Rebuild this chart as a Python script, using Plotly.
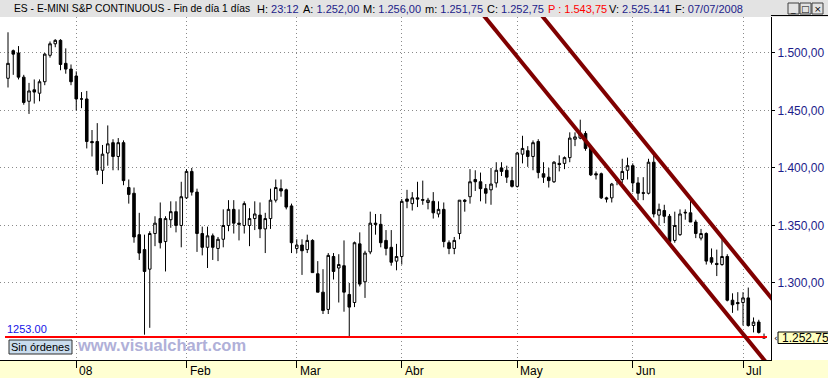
import plotly.graph_objects as go

# ---------------- data ----------------
opens = [
    1478, 1502, 1500, 1479, 1458, 1468, 1465, 1475, 1498, 1508,
    1511, 1491, 1486, 1480, 1460, 1460, 1423, 1423, 1398, 1413,
    1422, 1410, 1422, 1383, 1378, 1342, 1329, 1312, 1343, 1356,
    1336, 1355, 1362, 1350, 1374, 1397, 1379, 1343, 1331, 1341,
    1330, 1338, 1350, 1364, 1352, 1350, 1350, 1356, 1359, 1347,
    1356, 1372, 1382, 1381, 1367, 1330, 1333, 1329, 1337, 1308,
    1292, 1277, 1323, 1313, 1315, 1290, 1283, 1334, 1301, 1327,
    1352, 1351, 1337, 1331, 1319, 1323, 1373, 1369, 1374, 1372.5,
    1370, 1371, 1360, 1364, 1335, 1330, 1343, 1372, 1375, 1390,
    1388, 1382, 1381, 1387, 1400, 1398, 1389, 1384, 1412, 1415,
    1410, 1423, 1395, 1392, 1388, 1404, 1404, 1409, 1425, 1426,
    1430, 1417, 1395, 1395, 1374, 1374, 1390, 1390, 1398, 1402,
    1387, 1378.5, 1378, 1405, 1359, 1363, 1358, 1337, 1342, 1361.5,
    1361, 1353, 1339, 1343, 1322, 1317, 1316, 1323, 1285, 1283,
    1283, 1287, 1263, 1266, 1252,
]
highs = [
    1518, 1503, 1506, 1481, 1474, 1477, 1477, 1500, 1510, 1512,
    1512, 1504, 1490, 1484, 1466, 1467, 1433, 1439, 1420, 1437,
    1425, 1426, 1424, 1390, 1383, 1361, 1342, 1345, 1358, 1370,
    1358, 1371, 1371, 1388, 1399, 1400, 1382, 1349, 1349, 1343,
    1340, 1364, 1372, 1372, 1364, 1371, 1365, 1371, 1370, 1361,
    1382, 1390, 1390, 1382, 1369, 1338, 1338, 1342, 1338, 1319,
    1312, 1326, 1326, 1325, 1337, 1300, 1336, 1344, 1328, 1362,
    1360, 1360, 1346, 1346, 1334, 1373, 1381, 1379, 1388, 1389,
    1374, 1379, 1371, 1370, 1337, 1340, 1372, 1373, 1399, 1398,
    1396, 1386, 1400, 1405, 1405, 1402, 1401, 1414, 1428, 1419,
    1424, 1425, 1405, 1400, 1406, 1411, 1410, 1431, 1431, 1442,
    1432, 1420, 1397, 1396, 1375, 1387, 1392, 1408, 1409, 1404,
    1392, 1392, 1408, 1412, 1369, 1368, 1360, 1362, 1364, 1364,
    1373, 1355, 1347, 1344, 1330, 1329, 1338, 1325, 1291, 1292,
    1292, 1296, 1270, 1268, 1256,
]
lows = [
    1470, 1481, 1477, 1455, 1447, 1456, 1458, 1472, 1496, 1505,
    1485, 1482, 1472, 1450, 1452, 1417, 1410, 1394, 1386, 1402,
    1398, 1398, 1385, 1369, 1335, 1320, 1255, 1261, 1332, 1330,
    1310, 1348, 1344, 1331, 1373, 1376, 1327, 1324, 1313, 1320,
    1319, 1331, 1345, 1343, 1337, 1343, 1332, 1346, 1339, 1326,
    1347, 1370, 1375, 1364, 1326, 1326, 1307, 1326, 1309, 1292,
    1273, 1273, 1303, 1283, 1275, 1253, 1279, 1297, 1287, 1325,
    1342, 1331, 1324, 1315, 1311, 1316, 1365, 1363, 1366, 1368,
    1364, 1356, 1357, 1331, 1325, 1325, 1338, 1362, 1369, 1380,
    1371, 1369, 1368, 1383, 1393, 1387, 1383, 1383, 1404, 1401,
    1398, 1391, 1387, 1383, 1387, 1397, 1399, 1405, 1419, 1425,
    1415, 1393, 1390, 1373, 1370, 1370, 1385, 1387, 1390, 1379,
    1372, 1372, 1377, 1357, 1350, 1352, 1334, 1335, 1341, 1355,
    1353, 1339, 1337, 1316, 1316, 1306, 1315, 1284, 1274, 1276,
    1263, 1262, 1257, 1256, 1251.75,
]
closes = [
    1491, 1499, 1479, 1457, 1467, 1466, 1475, 1499, 1508, 1511,
    1490, 1486, 1475, 1460, 1460, 1423, 1422, 1398, 1412, 1421,
    1410, 1422, 1389, 1377, 1340, 1326, 1310, 1343, 1352, 1335,
    1356, 1362, 1350, 1375, 1397, 1379, 1343, 1331, 1341, 1331,
    1338, 1350, 1364, 1352, 1351, 1369, 1356, 1360, 1347, 1356,
    1372, 1383, 1380, 1366, 1335, 1333, 1328, 1337, 1309, 1292,
    1276, 1324, 1310, 1316, 1292, 1279, 1335, 1299, 1326, 1352,
    1351, 1335, 1330, 1318, 1323, 1371, 1371, 1374, 1373, 1372,
    1372, 1361, 1364, 1336, 1330, 1337, 1372, 1371, 1388, 1388,
    1382, 1378, 1386, 1398, 1397, 1392, 1384, 1413, 1417, 1410,
    1422, 1396, 1392, 1389, 1405, 1403, 1409, 1426, 1427, 1430,
    1417, 1394, 1394, 1374, 1373, 1386, 1389, 1397, 1402, 1387,
    1378, 1378, 1405, 1360, 1364, 1358, 1336, 1350, 1360, 1361,
    1353, 1343, 1343, 1319, 1318, 1316, 1323, 1285, 1281, 1282,
    1287, 1263, 1266, 1257, 1252.75,
]
bar_index = list(range(len(opens)))

month_ticks = [13, 34, 55, 75, 97, 119, 140]
month_labels = ["08", "Feb", "Mar", "Abr", "May", "Jun", "Jul"]

price_ticks = [1300, 1350, 1400, 1450, 1500]
price_labels = ["1.300,00", "1.350,00", "1.400,00", "1.450,00", "1.500,00"]

# drawn channel lines (bar index, price)
upper_line_x = [100, 146]
upper_line_y = [1542, 1283.5]
lower_line_x = [90, 146]
lower_line_y = [1536, 1222]

order_level = 1253.0
order_line_x = [-0.57, 144.57]
last_price = 1252.75

# ---------------- figure ----------------
W, H = 828, 378
ML, MR, MT, MB = 0, 57, 17, 18
PW, PH = W - ML - MR, H - MT - MB
XR = [-1.524, 145.33]
YR = [1233.0, 1531.3]


def px_x(px):
    return (px - ML) / PW


def px_y(py):
    return 1 - (py - MT) / PH


fig = go.Figure()

fig.add_trace(go.Scatter(
    x=order_line_x, y=[order_level, order_level], mode="lines",
    line=dict(color="#ff0000", width=2), hoverinfo="skip"))

fig.add_trace(go.Candlestick(
    x=bar_index, open=opens, high=highs, low=lows, close=closes,
    increasing=dict(fillcolor="#ffffff", line=dict(color="#000000", width=1)),
    decreasing=dict(fillcolor="#000000", line=dict(color="#000000", width=1)),
    whiskerwidth=0, hoverinfo="skip"))

for lx, ly in ((upper_line_x, upper_line_y), (lower_line_x, lower_line_y)):
    fig.add_trace(go.Scatter(
        x=lx, y=ly, mode="lines",
        line=dict(color="#800000", width=4), hoverinfo="skip"))

shapes = [
    # title bar
    dict(type="rect", xref="paper", yref="paper", x0=px_x(0), x1=px_x(W),
         y0=px_y(17), y1=px_y(0), fillcolor="#e3e3e3", line=dict(width=0), layer="below"),
    # bottom date band
    dict(type="rect", xref="paper", yref="paper", x0=px_x(0), x1=px_x(W),
         y0=px_y(H), y1=px_y(360), fillcolor="#ffffd2", line=dict(width=0), layer="below"),
    # right panel top border
    dict(type="line", xref="paper", yref="paper", x0=px_x(771), x1=px_x(W),
         y0=px_y(15.5), y1=px_y(15.5), line=dict(color="#000000", width=1)),
    # "Sin órdenes" box
    dict(type="rect", xref="paper", yref="paper", x0=px_x(9), x1=px_x(72),
         y0=px_y(354), y1=px_y(340), fillcolor="#c9dced", line=dict(color="#303030", width=1)),
    # last-price tag
    dict(type="rect", xref="paper", yref="paper", x0=px_x(778), x1=px_x(830),
         y0=px_y(343.5), y1=px_y(332), fillcolor="#ffffc0", line=dict(color="#000000", width=1)),
]
# window buttons
for bx in (788, 800, 812):
    shapes.append(dict(type="rect", xref="paper", yref="paper", x0=px_x(bx), x1=px_x(bx + 11),
                       y0=px_y(14), y1=px_y(3), fillcolor="#e3e3e3",
                       line=dict(color="#404040", width=1)))

navy = "#1c1c8a"
annotations = []
title_parts = [
    (12, "ES - E-MINI S&P CONTINUOUS - Fin de día 1 días", 10.3),
    (255, f"H: <span style='color:{navy}'>23:12</span>", 11),
    (301, f"A: <span style='color:{navy}'>1.252,00</span>", 11),
    (361, f"M: <span style='color:{navy}'>1.256,00</span>", 11),
    (423, f"m: <span style='color:{navy}'>1.251,75</span>", 11),
    (485, f"C: <span style='color:{navy}'>1.252,75</span>", 11),
    (546, "<span style='color:#ff0000'>P : 1.543,75</span>", 11),
    (607, f"V: <span style='color:{navy}'>2.525.141</span>", 11),
    (673, f"F: <span style='color:{navy}'>07/07/2008</span>", 11),
]
for tx, tt, fs in title_parts:
    annotations.append(dict(text=tt, xref="paper", yref="paper", x=px_x(tx), y=px_y(8.5),
                            xanchor="left", yanchor="middle", showarrow=False,
                            font=dict(family="Liberation Sans", size=fs, color="#000000")))

for gx, glyph in ((793.5, "_"), (805.5, "□"), (817.5, "×")):
    annotations.append(dict(text=glyph, xref="paper", yref="paper", x=px_x(gx), y=px_y(8.5),
                            xanchor="center", yanchor="middle", showarrow=False,
                            font=dict(family="DejaVu Sans", size=9, color="#000000")))

for mt, ml in zip(month_ticks, month_labels):
    annotations.append(dict(text=ml, x=mt, xref="x", y=px_y(371), yref="paper",
                            xanchor="left", yanchor="middle", xshift=1, showarrow=False,
                            font=dict(family="Liberation Sans", size=12, color="#000000")))

annotations += [
    dict(text=f"{order_level:.2f}", xref="paper", yref="paper", x=px_x(5), y=px_y(329),
         xanchor="left", yanchor="middle", showarrow=False,
         font=dict(family="Liberation Sans", size=11, color="#1414e6")),
    dict(text="Sin órdenes", xref="paper", yref="paper", x=px_x(40.5), y=px_y(347),
         xanchor="center", yanchor="middle", showarrow=False,
         font=dict(family="Liberation Sans", size=11, color="#000000")),
    dict(text="<b>www.visualchart.com</b>", xref="paper", yref="paper", x=px_x(75), y=px_y(345),
         xanchor="left", yanchor="middle", showarrow=False,
         font=dict(family="Liberation Sans", size=16.5, color="#b0b0d8")),
    dict(text="1.252,75", xref="paper", yref="paper", x=px_x(780), y=px_y(338),
         xanchor="left", yanchor="middle", showarrow=False,
         font=dict(family="Liberation Sans", size=12, color="#000000")),
    dict(text="‹", xref="paper", yref="paper", x=px_x(776), y=px_y(337.5),
         xanchor="center", yanchor="middle", showarrow=False,
         font=dict(family="DejaVu Sans", size=9, color="#000000")),
]

fig.update_layout(
    width=W, height=H,
    margin=dict(l=ML, r=MR, t=MT, b=MB, pad=0),
    paper_bgcolor="#ffffff", plot_bgcolor="#ffffff",
    showlegend=False,
    shapes=shapes, annotations=annotations,
    xaxis=dict(range=XR, rangeslider=dict(visible=False), tickmode="array",
               tickvals=month_ticks, showticklabels=False, ticks="outside", ticklen=7,
               tickcolor="#000000", showgrid=True, gridcolor="#8a8a8a", griddash="1px,3px",
               gridwidth=1, showline=True, linecolor="#000000", linewidth=1, zeroline=False,
               fixedrange=True),
    yaxis=dict(range=YR, side="right", tickmode="array", tickvals=price_ticks,
               ticktext=price_labels, ticks="outside", ticklen=3, tickcolor="#000000",
               tickfont=dict(family="Liberation Sans", size=12, color=navy),
               showgrid=True, gridcolor="#8a8a8a", griddash="1px,3px", gridwidth=1,
               showline=True, linecolor="#000000", linewidth=1, zeroline=False,
               fixedrange=True),
)

fig.write_html("out.html")
